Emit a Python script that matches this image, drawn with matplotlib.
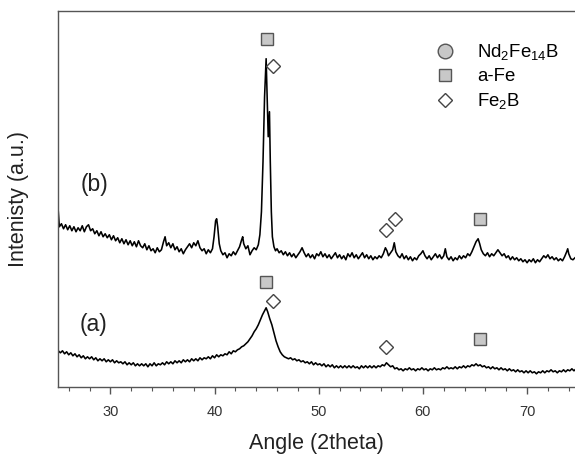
import numpy as np
import matplotlib
matplotlib.use("Agg")
import matplotlib.pyplot as plt
from matplotlib.lines import Line2D
from matplotlib.ticker import MultipleLocator

plt.rcParams['font.family'] = ['Liberation Sans', 'DejaVu Sans']
plt.rcParams['mathtext.fontset'] = 'custom'
plt.rcParams['mathtext.rm'] = 'Liberation Sans'
plt.rcParams['mathtext.it'] = 'Liberation Sans:italic'

# XRD scan (b): (angle, intensity a.u.)
scan_b = [
    (25.0, 175), (25.1, 160), (25.3, 163), (25.5, 158), (25.7, 162), (25.9, 157), (26.1, 161),
    (26.3, 156), (26.5, 160), (26.7, 155), (26.9, 159), (27.1, 156), (27.3, 161), (27.5, 155),
    (27.7, 160), (27.9, 162), (28.1, 156), (28.3, 158), (28.5, 153), (28.7, 156), (28.9, 151),
    (29.1, 155), (29.3, 150), (29.5, 153), (29.7, 149), (29.9, 152), (30.1, 147), (30.3, 151),
    (30.5, 146), (30.7, 149), (30.9, 144), (31.1, 148), (31.3, 143), (31.5, 147), (31.7, 142),
    (31.9, 146), (32.1, 141), (32.3, 145), (32.5, 140), (32.7, 146), (32.9, 141), (33.1, 139),
    (33.3, 143), (33.5, 137), (33.7, 141), (33.9, 136), (34.1, 138), (34.3, 134), (34.5, 139),
    (34.7, 135), (34.9, 137), (35.1, 145), (35.25, 150), (35.4, 141), (35.6, 144), (35.8, 139),
    (36.0, 143), (36.2, 137), (36.4, 140), (36.6, 135), (36.8, 138), (37.0, 133), (37.2, 137),
    (37.4, 140), (37.6, 143), (37.8, 139), (38.0, 144), (38.2, 141), (38.4, 146), (38.6, 139),
    (38.8, 136), (39.0, 138), (39.2, 133), (39.4, 137), (39.6, 134), (39.8, 138), (39.95, 150),
    (40.1, 166), (40.2, 168), (40.3, 160), (40.45, 143), (40.6, 136), (40.8, 132), (41.0, 134),
    (41.2, 129), (41.4, 133), (41.6, 131), (41.8, 135), (42.0, 132), (42.2, 136), (42.4, 140),
    (42.6, 147), (42.7, 150), (42.8, 143), (43.0, 138), (43.2, 141), (43.4, 132), (43.6, 136),
    (43.8, 139), (44.0, 137), (44.2, 142), (44.35, 152), (44.5, 175), (44.65, 225), (44.8, 290),
    (44.95, 328), (45.05, 290), (45.15, 250), (45.27, 275), (45.35, 225), (45.45, 175),
    (45.55, 150), (45.7, 140), (45.85, 136), (46.0, 138), (46.2, 134), (46.4, 136), (46.6, 132),
    (46.8, 135), (47.0, 131), (47.2, 134), (47.4, 130), (47.6, 133), (47.8, 129), (48.0, 132),
    (48.2, 135), (48.4, 139), (48.6, 134), (48.8, 130), (49.0, 133), (49.2, 129), (49.4, 132),
    (49.6, 128), (49.8, 133), (50.0, 131), (50.2, 135), (50.4, 130), (50.6, 133), (50.8, 129),
    (51.0, 132), (51.2, 128), (51.4, 131), (51.6, 134), (51.8, 129), (52.0, 132), (52.2, 128),
    (52.4, 131), (52.6, 127), (52.8, 133), (53.0, 130), (53.2, 134), (53.4, 129), (53.6, 132),
    (53.8, 128), (54.0, 131), (54.2, 134), (54.4, 129), (54.6, 132), (54.8, 128), (55.0, 131),
    (55.2, 127), (55.4, 130), (55.6, 128), (55.8, 131), (56.0, 129), (56.2, 133), (56.4, 139),
    (56.55, 136), (56.7, 131), (56.9, 134), (57.1, 137), (57.25, 144), (57.4, 135), (57.6, 131),
    (57.8, 129), (58.0, 133), (58.2, 128), (58.4, 131), (58.6, 127), (58.8, 130), (59.0, 126),
    (59.2, 129), (59.4, 127), (59.6, 131), (59.8, 133), (60.0, 136), (60.2, 131), (60.4, 128),
    (60.6, 131), (60.8, 127), (61.0, 130), (61.2, 133), (61.4, 129), (61.6, 132), (61.8, 128),
    (62.0, 131), (62.15, 138), (62.3, 130), (62.5, 127), (62.7, 130), (62.9, 126), (63.1, 129),
    (63.3, 127), (63.5, 131), (63.7, 128), (63.9, 131), (64.1, 129), (64.3, 133), (64.5, 131),
    (64.7, 135), (64.9, 140), (65.1, 145), (65.3, 148), (65.45, 143), (65.6, 137), (65.8, 133),
    (66.0, 131), (66.2, 134), (66.4, 130), (66.6, 133), (66.8, 131), (67.0, 134), (67.2, 137),
    (67.4, 134), (67.6, 131), (67.8, 133), (68.0, 129), (68.2, 131), (68.4, 127), (68.6, 130),
    (68.8, 127), (69.0, 129), (69.2, 126), (69.4, 128), (69.6, 125), (69.8, 127), (70.0, 124),
    (70.2, 127), (70.4, 125), (70.6, 128), (70.8, 124), (71.0, 127), (71.2, 125), (71.4, 128),
    (71.6, 131), (71.8, 129), (72.0, 132), (72.2, 128), (72.4, 130), (72.6, 127), (72.8, 129),
    (73.0, 126), (73.2, 128), (73.4, 126), (73.6, 130), (73.8, 135), (73.9, 138), (74.0, 133),
    (74.2, 128), (74.4, 127), (74.6, 129),
]

# XRD scan (a)
scan_a = [
    (25.0, 36), (25.2, 34), (25.4, 36), (25.6, 33), (25.8, 35), (26.0, 32), (26.2, 34), (26.4, 31),
    (26.6, 33), (26.8, 30), (27.0, 32), (27.2, 29), (27.4, 31), (27.6, 28), (27.8, 30), (28.0, 28),
    (28.2, 30), (28.4, 27), (28.6, 29), (28.8, 26), (29.0, 28), (29.2, 26), (29.4, 28), (29.6, 25),
    (29.8, 27), (30.0, 25), (30.2, 27), (30.4, 24), (30.6, 26), (30.8, 24), (31.0, 25), (31.2, 23),
    (31.4, 25), (31.6, 22), (31.8, 24), (32.0, 22), (32.2, 24), (32.4, 21), (32.6, 23), (32.8, 21),
    (33.0, 23), (33.2, 21), (33.4, 23), (33.6, 20), (33.8, 23), (34.0, 21), (34.2, 24), (34.4, 21),
    (34.6, 23), (34.8, 22), (35.0, 24), (35.2, 22), (35.4, 25), (35.6, 23), (35.8, 25), (36.0, 23),
    (36.2, 26), (36.4, 24), (36.6, 26), (36.8, 24), (37.0, 27), (37.2, 25), (37.4, 27), (37.6, 25),
    (37.8, 28), (38.0, 26), (38.2, 28), (38.4, 26), (38.6, 29), (38.8, 27), (39.0, 29), (39.2, 28),
    (39.4, 30), (39.6, 28), (39.8, 31), (40.0, 29), (40.2, 32), (40.4, 30), (40.6, 32), (40.8, 31),
    (41.0, 33), (41.2, 32), (41.4, 35), (41.6, 33), (41.8, 36), (42.0, 35), (42.2, 37), (42.4, 38),
    (42.6, 40), (42.8, 41), (43.0, 43), (43.2, 45), (43.4, 48), (43.6, 51), (43.8, 55), (44.0, 58),
    (44.2, 62), (44.4, 67), (44.6, 72), (44.8, 76), (44.95, 79), (45.1, 75), (45.3, 68), (45.5, 62),
    (45.7, 54), (45.9, 46), (46.1, 40), (46.3, 35), (46.5, 32), (46.7, 30), (46.9, 29), (47.1, 28),
    (47.3, 29), (47.5, 27), (47.7, 28), (47.9, 26), (48.1, 27), (48.3, 25), (48.5, 26), (48.7, 24),
    (48.9, 25), (49.1, 23), (49.3, 25), (49.5, 22), (49.7, 24), (49.9, 22), (50.1, 23), (50.3, 21),
    (50.5, 23), (50.7, 20), (50.9, 22), (51.1, 20), (51.3, 22), (51.5, 19), (51.7, 21), (51.9, 19),
    (52.1, 21), (52.3, 19), (52.5, 21), (52.7, 19), (52.9, 21), (53.1, 19), (53.3, 21), (53.5, 19),
    (53.7, 20), (53.9, 18), (54.1, 21), (54.3, 19), (54.5, 21), (54.7, 19), (54.9, 21), (55.1, 19),
    (55.3, 21), (55.5, 19), (55.7, 21), (55.9, 20), (56.1, 22), (56.3, 21), (56.5, 24), (56.7, 22),
    (56.9, 20), (57.1, 21), (57.3, 18), (57.5, 19), (57.7, 17), (57.9, 18), (58.1, 16), (58.3, 18),
    (58.5, 17), (58.7, 19), (58.9, 17), (59.1, 18), (59.3, 16), (59.5, 18), (59.7, 17), (59.9, 19),
    (60.1, 17), (60.3, 18), (60.5, 16), (60.7, 18), (60.9, 17), (61.1, 19), (61.3, 17), (61.5, 18),
    (61.7, 17), (61.9, 19), (62.1, 18), (62.3, 20), (62.5, 18), (62.7, 19), (62.9, 18), (63.1, 20),
    (63.3, 18), (63.5, 20), (63.7, 19), (63.9, 21), (64.1, 19), (64.3, 21), (64.5, 20), (64.7, 22),
    (64.9, 21), (65.1, 23), (65.3, 21), (65.5, 22), (65.7, 20), (65.9, 21), (66.1, 19), (66.3, 20),
    (66.5, 18), (66.7, 20), (66.9, 18), (67.1, 19), (67.3, 17), (67.5, 19), (67.7, 17), (67.9, 18),
    (68.1, 16), (68.3, 18), (68.5, 16), (68.7, 17), (68.9, 15), (69.1, 17), (69.3, 15), (69.5, 16),
    (69.7, 14), (69.9, 16), (70.1, 14), (70.3, 16), (70.5, 14), (70.7, 15), (70.9, 13), (71.1, 15),
    (71.3, 14), (71.5, 16), (71.7, 14), (71.9, 16), (72.1, 15), (72.3, 17), (72.5, 15), (72.7, 16),
    (72.9, 14), (73.1, 16), (73.3, 15), (73.5, 17), (73.7, 15), (73.9, 17), (74.1, 16), (74.3, 18),
    (74.5, 16), (74.6, 17),
]

# phase markers (angle, height) for each pattern
fe_b = [(45.0, 348), (65.45, 168)]
fe2b_b = [(45.65, 321), (56.5, 157), (57.35, 168)]
fe_a = [(44.9, 105), (65.45, 48)]
fe2b_a = [(45.6, 86), (56.5, 40)]

sample_labels = ['(a)', '(b)']
label_pos = [(28.4, 62), (28.5, 202)]

xa, ya = np.array(scan_a).T
xb, yb = np.array(scan_b).T

fig = plt.figure(figsize=(5.75, 4.54), dpi=100)
ax = fig.add_axes([0.1014, 0.148, 0.8986, 0.8278])

ax.plot(xb, yb, color='black', lw=1.15)
ax.plot(xa, ya, color='black', lw=1.15)

sq_style = dict(marker='s', ms=8.5, mfc='#c8c8c8', mec='#555555', mew=1.0, ls='none')
dm_style = dict(marker='D', ms=7.5, mfc='white', mec='#444444', mew=1.0, ls='none')
for pts in (fe_b, fe_a):
    px, py = zip(*pts)
    ax.plot(px, py, **sq_style)
for pts in (fe2b_b, fe2b_a):
    px, py = zip(*pts)
    ax.plot(px, py, **dm_style)

for lab, (lx, ly) in zip(sample_labels, label_pos):
    ax.text(lx, ly, lab, fontsize=16.5, ha='center', va='center', color='#222222')

# legend (Nd2Fe14B has no marked peaks but is listed)
handles = [
    Line2D([], [], marker='o', ms=10.5, mfc='#c8c8c8', mec='#555555', mew=1.0, ls='none'),
    Line2D([], [], **sq_style),
    Line2D([], [], **dm_style),
]
labels = ['Nd$_2$Fe$_{14}$B', 'a-Fe', 'Fe$_2$B']
ax.legend(handles, labels, loc='upper left', bbox_to_anchor=(0.716, 0.937), frameon=False,
          fontsize=13.4, handlelength=1.0, handletextpad=1.22, labelspacing=0.32,
          borderpad=0.4, borderaxespad=0)

ax.set_xlim(25, 74.6)
ax.set_ylim(0, 375.7)
ax.xaxis.set_major_locator(MultipleLocator(10))
ax.xaxis.set_minor_locator(MultipleLocator(2))
ax.set_yticks([])
ax.spines['right'].set_visible(False)
for s in ('left', 'top', 'bottom'):
    ax.spines[s].set_color('#555555')
    ax.spines[s].set_linewidth(1.0)
ax.tick_params(axis='x', which='major', direction='out', length=5, width=1.0,
               color='#555555', labelsize=10.5, labelcolor='#333333', pad=8)
ax.tick_params(axis='x', which='minor', direction='out', length=3, width=0.8, color='#555555')

ax.set_xlabel('Angle (2theta)', fontsize=15.5, color='#222222')
ax.set_ylabel('Intenisty (a.u.)', fontsize=15.5, color='#222222')
ax.xaxis.set_label_coords(0.5, -0.123)
ax.yaxis.set_label_coords(-0.057, 0.5)

fig.savefig('out.png', dpi=100)
